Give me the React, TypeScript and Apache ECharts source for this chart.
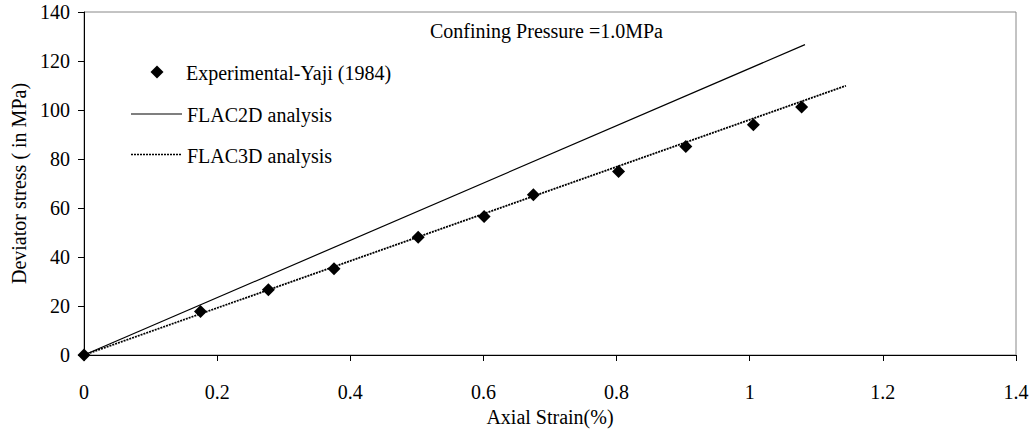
import React, { useEffect, useRef } from "react";
import * as echarts from "echarts";

const expStrain = [0, 0.175, 0.277, 0.3755, 0.502, 0.601, 0.675, 0.803, 0.904, 1.0055, 1.078];
const expStress = [0, 17.8, 26.6, 35.2, 48.1, 56.5, 65.4, 74.9, 85.1, 94.0, 101.2];
const flac2dStrain = [0, 1.083];
const flac2dStress = [0, 126.7];
const flac3dStrain = [0, 1.1446];
const flac3dStress = [0, 109.9];

const FONT = "'Liberation Serif', 'Times New Roman', serif";
const FS = 20;

export default function App() {
  const ref = useRef<HTMLDivElement>(null);
  useEffect(() => {
    if (!ref.current) return;
    const chart = echarts.init(ref.current, null, { renderer: "svg" });
    const zip = (a: number[], b: number[]) => a.map((v, i) => [v, b[i]]);
    chart.setOption({
      animation: false,
      backgroundColor: "#fff",
      textStyle: { fontFamily: FONT, color: "#000" },
      grid: {
        left: 84,
        right: 17,
        top: 12,
        bottom: 75,
        show: true,
        borderColor: "#888",
        borderWidth: 1,
        containLabel: false,
        outerBoundsMode: "none",
      },
      xAxis: {
        type: "value",
        min: 0,
        max: 1.4,
        interval: 0.2,
        name: "Axial Strain(%)",
        nameLocation: "middle",
        nameGap: 52,
        nameTextStyle: { fontFamily: FONT, fontSize: FS, color: "#000" },
        axisLine: { show: true, lineStyle: { color: "#000", width: 1 } },
        axisTick: { show: true, length: 6, inside: false, lineStyle: { color: "#000" } },
        axisLabel: { fontFamily: FONT, fontSize: FS, color: "#000", margin: 27 },
        splitLine: { show: false },
      },
      yAxis: {
        type: "value",
        min: 0,
        max: 140,
        interval: 20,
        name: "Deviator stress ( in MPa)",
        nameLocation: "middle",
        nameGap: 52,
        nameRotate: 90,
        nameTextStyle: { fontFamily: FONT, fontSize: FS, color: "#000" },
        axisLine: { show: true, lineStyle: { color: "#000", width: 1 } },
        axisTick: { show: true, length: 6, inside: false, lineStyle: { color: "#000" } },
        axisLabel: { fontFamily: FONT, fontSize: FS, color: "#000", margin: 14 },
        splitLine: { show: false },
      },
      series: [
        {
          name: "FLAC2D analysis",
          type: "line",
          data: zip(flac2dStrain, flac2dStress),
          symbol: "none",
          lineStyle: { color: "#000", width: 1.2 },
          z: 2,
        },
        {
          name: "FLAC3D analysis",
          type: "line",
          data: zip(flac3dStrain, flac3dStress),
          symbol: "none",
          lineStyle: { color: "#000", width: 1.8, type: [2, 1] },
          z: 2,
        },
        {
          name: "Experimental-Yaji (1984)",
          type: "scatter",
          data: zip(expStrain, expStress),
          symbol: "diamond",
          symbolSize: 13,
          itemStyle: { color: "#000", opacity: 1 },
          z: 3,
        },
      ],
      graphic: [
        {
          type: "text",
          left: 430,
          top: 21,
          style: { text: "Confining Pressure =1.0MPa", fontFamily: FONT, fontSize: FS, fill: "#000" },
        },
        {
          type: "polygon",
          shape: { points: [[157, 65.5], [163.5, 72], [157, 78.5], [150.5, 72]] },
          style: { fill: "#000" },
        },
        {
          type: "text",
          x: 186,
          y: 73,
          style: { text: "Experimental-Yaji (1984)", fontFamily: FONT, fontSize: FS, fill: "#000", verticalAlign: "middle" },
        },
        {
          type: "line",
          shape: { x1: 131, y1: 114, x2: 182, y2: 114 },
          style: { stroke: "#000", lineWidth: 1.2 },
        },
        {
          type: "text",
          x: 187,
          y: 115,
          style: { text: "FLAC2D analysis", fontFamily: FONT, fontSize: FS, fill: "#000", verticalAlign: "middle" },
        },
        {
          type: "line",
          shape: { x1: 131, y1: 154.5, x2: 182, y2: 154.5 },
          style: { stroke: "#000", lineWidth: 1.5, lineDash: [2, 1] },
        },
        {
          type: "text",
          x: 187,
          y: 156,
          style: { text: "FLAC3D analysis", fontFamily: FONT, fontSize: FS, fill: "#000", verticalAlign: "middle" },
        },
      ],
    });
    return () => chart.dispose();
  }, []);
  return (
    <div
      ref={ref}
      style={{ position: "fixed", left: 0, top: 0, width: 1033, height: 430, background: "#fff" }}
    />
  );
}
